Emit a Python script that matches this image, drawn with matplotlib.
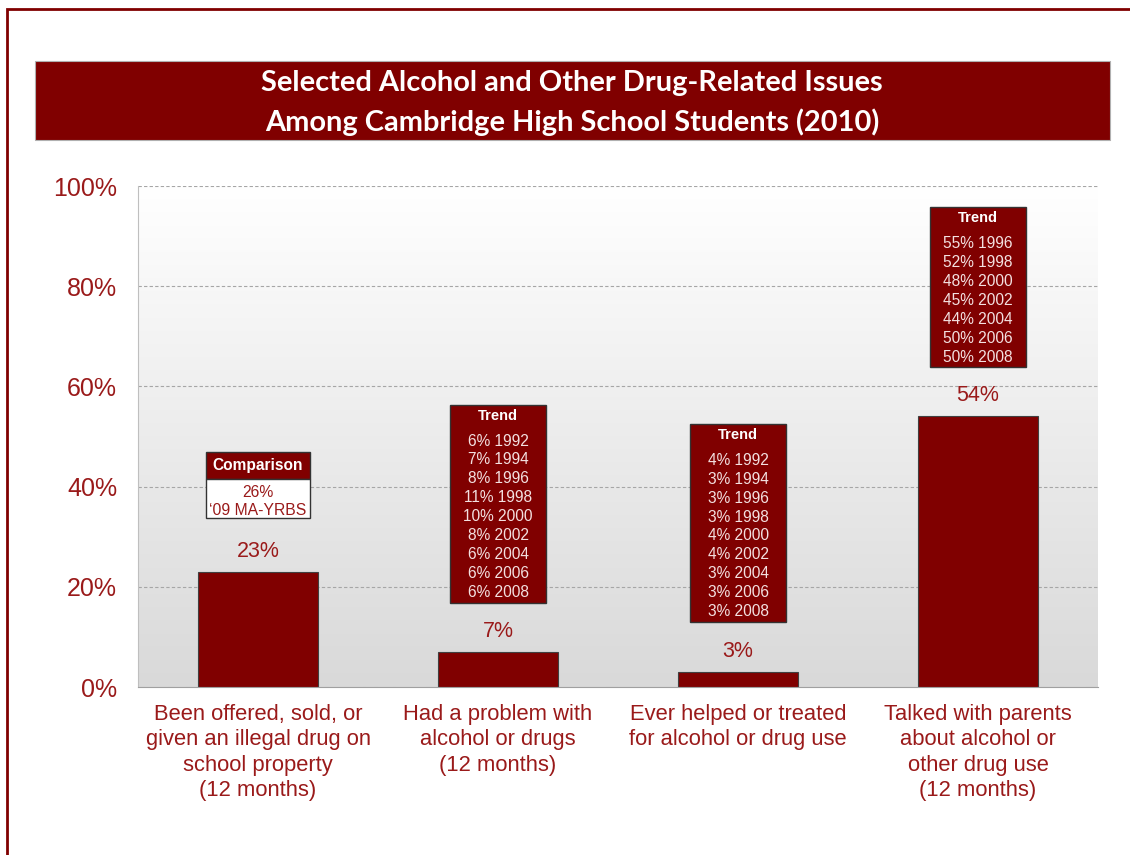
import numpy as np
import matplotlib.pyplot as plt
from matplotlib.patches import Rectangle

categories = ["Been offered, sold, or\ngiven an illegal drug on\nschool property\n(12 months)",
              "Had a problem with\nalcohol or drugs\n(12 months)",
              "Ever helped or treated\nfor alcohol or drug use",
              "Talked with parents\nabout alcohol or\nother drug use\n(12 months)"]
values = [23, 7, 3, 54]
value_labels = ["23%", "7%", "3%", "54%"]

trend_2 = ["6% 1992", "7% 1994", "8% 1996", "11% 1998", "10% 2000",
           "8% 2002", "6% 2004", "6% 2006", "6% 2008"]
trend_3 = ["4% 1992", "3% 1994", "3% 1996", "3% 1998", "4% 2000",
           "4% 2002", "3% 2004", "3% 2006", "3% 2008"]
trend_4 = ["55% 1996", "52% 1998", "48% 2000", "45% 2002",
           "44% 2004", "50% 2006", "50% 2008"]
comparison = ["26%", "\u201809 MA-YRBS"]

dark = "#800000"
txt = "#9a1a1a"
light = "#f3e0e0"

fig = plt.figure(figsize=(11.3, 8.55), dpi=100)

# outer frame
fig.patches.append(Rectangle((7/1130, -0.1), 1.2, 1 - 9/855 + 0.1, transform=fig.transFigure,
                             fill=False, edgecolor=dark, lw=2))
# title banner
fig.patches.append(Rectangle((35/1130, 1 - 140/855), 1075/1130, 79/855, transform=fig.transFigure,
                             facecolor=dark, edgecolor="#b0b0b0", lw=0.8))
fig.text(572/1130, 1 - 83/855, "Selected Alcohol and Other Drug-Related Issues",
         ha="center", va="center", color="white", fontsize=20.9, fontweight="bold", family="Lato")
fig.text(572/1130, 1 - 122/855, "Among Cambridge High School Students (2010)",
         ha="center", va="center", color="white", fontsize=20.9, fontweight="bold", family="Lato")

ax = fig.add_axes([138/1130, 1 - 687/855, 960/1130, 501/855])
x = np.arange(len(values))
ax.set_xlim(-0.5, 3.5)
ax.set_ylim(0, 100)

# gradient background
grad = np.linspace(0, 1, 256).reshape(-1, 1)
ax.imshow(grad, extent=[-0.5, 3.5, 0, 100], aspect="auto", origin="lower",
          cmap=plt.matplotlib.colors.LinearSegmentedColormap.from_list("g", ["#d9d9d9", "#ffffff"]),
          zorder=0)

for yv in [20, 40, 60, 80, 100]:
    ax.axhline(yv, color="#a6a6a6", lw=0.8, ls=(0, (3, 2)), zorder=1)

ax.bar(x, values, width=0.5, color=dark, edgecolor="#404040", lw=0.8, zorder=2)
for i, v in enumerate(values):
    ax.text(x[i], v + 2.0, value_labels[i], ha="center", va="bottom", color=txt, fontsize=15.5,
            family="Liberation Sans")

ax.set_yticks([0, 20, 40, 60, 80, 100])
ax.set_yticklabels(["0%", "20%", "40%", "60%", "80%", "100%"], color=txt, fontsize=18,
                   family="Liberation Sans")
ax.set_xticks(x)
ax.set_xticklabels(categories, color=txt, fontsize=15.8, family="Liberation Sans", va="top",
                   linespacing=1.28)
ax.tick_params(length=0, pad=12)
ax.tick_params(axis="y", pad=15)
for s in ["top", "right"]:
    ax.spines[s].set_visible(False)
ax.spines["left"].set_color("#bfbfbf")
ax.spines["bottom"].set_color("#a0a0a0")


def trend_box(xc, top, bottom, lines):
    w = 0.396
    ax.add_patch(Rectangle((xc - w/2, bottom), w, top - bottom, facecolor=dark,
                           edgecolor="#333333", lw=1, zorder=3))
    ax.text(xc, top - 2.2, "Trend", ha="center", va="center", color="white", fontsize=10.5,
            fontweight="bold", family="Liberation Sans", zorder=4)
    for k, s in enumerate(lines):
        ax.text(xc, top - 7.2 - 3.79 * k, s, ha="center", va="center", color=light,
                fontsize=11.2, family="Liberation Sans", zorder=4)


trend_box(1, 56.3, 16.8, trend_2)
trend_box(2, 52.5, 13.0, trend_3)
trend_box(3, 95.8, 63.9, trend_4)

# comparison box
cw = 0.43
ax.add_patch(Rectangle((-cw/2, 41.5), cw, 5.4, facecolor=dark, edgecolor="#333333", lw=1, zorder=3))
ax.add_patch(Rectangle((-cw/2, 33.7), cw, 7.8, facecolor="white", edgecolor="#333333", lw=1, zorder=3))
ax.text(0, 44.2, "Comparison", ha="center", va="center", color="white", fontsize=11.2,
        fontweight="bold", family="Liberation Sans", zorder=4)
ax.text(0, 38.9, comparison[0], ha="center", va="center", color=txt, fontsize=11.3,
        family="Liberation Sans", zorder=4)
ax.text(0, 35.3, comparison[1], ha="center", va="center", color=txt, fontsize=11.3,
        family="Liberation Sans", zorder=4)

fig.savefig("out.png", dpi=100)
